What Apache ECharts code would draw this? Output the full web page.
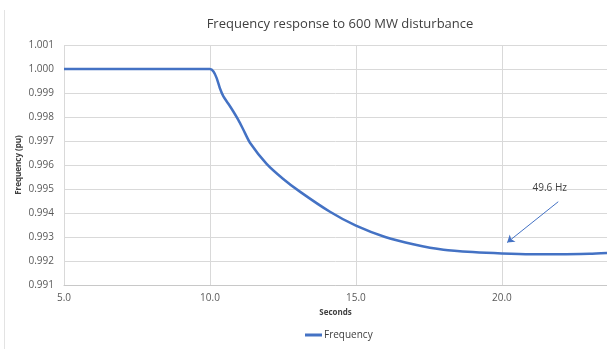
<!DOCTYPE html>
<html>
<head>
<meta charset="utf-8">
<script src="https://cdn.jsdelivr.net/npm/echarts@6/dist/echarts.min.js"></script>
<style>
  html, body { margin: 0; padding: 0; background: #fff; }
  #chart { width: 607px; height: 349px; }
</style>
</head>
<body>
<div id="chart"></div>
<script>
// values
var seconds = [5.0, 10.0, 10.12, 10.23, 10.34, 10.46, 10.63, 10.8, 10.97, 11.14, 11.37, 11.94, 12.51, 13.08, 14.11, 15.0, 16.0, 17.0, 18.0, 19.0, 20.0, 21.0, 22.0, 23.0, 23.6];
var frequency = [1.0, 1.0, 0.99990, 0.99962, 0.99920, 0.99886, 0.99855, 0.99823, 0.99788, 0.99748, 0.99693, 0.99605, 0.99542, 0.99489, 0.99405, 0.99347, 0.99300, 0.99269, 0.99247, 0.99237, 0.99231, 0.99228, 0.99228, 0.99230, 0.99233];
var xTicks = [5, 10, 15, 20];
var yTicks = [0.991, 0.992, 0.993, 0.994, 0.995, 0.996, 0.997, 0.998, 0.999, 1.000, 1.001];
var noteText = '49.6 Hz';
var noteFrom = [21.93, 0.99447];
var noteTo = [20.18, 0.99277];
var notePos = [21.64, 0.99503];

var chart = echarts.init(document.getElementById('chart'));

var points = [];
for (var i = 0; i < seconds.length; i++) {
    points.push([seconds[i], frequency[i]]);
}

var font = '"Open Sans", sans-serif';

var option = {
    animation: false,
    title: {
        text: 'Frequency response to 600 MW disturbance',
        left: 335,
        textAlign: 'center',
        top: 13,
        textStyle: { fontFamily: font, fontSize: 13, fontWeight: 'normal', color: '#404040' }
    },
    legend: {
        data: ['Frequency'],
        bottom: 4,
        left: 300,
        icon: 'rect',
        itemWidth: 17,
        itemHeight: 3,
        itemGap: 4,
        textStyle: { fontFamily: font, fontSize: 10, color: '#404040', padding: [0, 0, 0, -3] }
    },
    grid: { left: 64, right: 0, top: 45, bottom: 64 },
    xAxis: {
        type: 'value',
        min: xTicks[0],
        max: 23.6,
        interval: 5,
        name: 'Seconds',
        nameLocation: 'middle',
        nameGap: 24,
        nameMoveOverlap: false,
        nameTextStyle: { fontFamily: font, fontSize: 8, fontWeight: 'bold', color: '#404040' },
        axisLine: { show: true, lineStyle: { color: '#c8c8c8' } },
        axisTick: { show: false },
        axisLabel: {
            margin: 8,
            fontFamily: font, fontSize: 10, color: '#595959',
            showMaxLabel: false,
            formatter: function (v) { return v.toFixed(1); }
        },
        splitLine: { show: true, lineStyle: { color: '#d9d9d9' } }
    },
    yAxis: {
        type: 'value',
        min: yTicks[0],
        max: yTicks[yTicks.length - 1],
        interval: 0.001,
        name: 'Frequency (pu)',
        nameLocation: 'middle',
        nameGap: 41,
        nameMoveOverlap: false,
        nameTextStyle: { fontFamily: font, fontSize: 8, fontWeight: 'bold', color: '#404040' },
        axisLine: { show: false },
        axisTick: { show: false },
        axisLabel: {
            margin: 10,
            fontFamily: font, fontSize: 10, color: '#595959',
            formatter: function (v) { return v.toFixed(3); }
        },
        splitLine: { show: true, lineStyle: { color: '#d9d9d9' } }
    },
    series: [{
        name: 'Frequency',
        type: 'line',
        data: points,
        smooth: 0.25,
        showSymbol: false,
        color: '#4472c4',
        lineStyle: { width: 2.5, color: '#4472c4' },
        markLine: {
            silent: true,
            symbol: ['none', 'arrow'],
            symbolSize: 7,
            label: { show: false },
            lineStyle: { type: 'solid', width: 1, color: '#4472c4' },
            data: [[{ coord: noteFrom }, { coord: noteTo }]]
        },
        markPoint: {
            silent: true,
            symbol: 'circle',
            symbolSize: 0,
            label: {
                show: true,
                formatter: noteText,
                fontFamily: font, fontSize: 10, color: '#404040'
            },
            data: [{ coord: notePos }]
        }
    }],
    graphic: [{
        type: 'line',
        shape: { x1: 4.5, y1: 10, x2: 4.5, y2: 349 },
        style: { stroke: '#e3e3e3', lineWidth: 1 }
    }]
};

chart.setOption(option);
</script>
</body>
</html>
